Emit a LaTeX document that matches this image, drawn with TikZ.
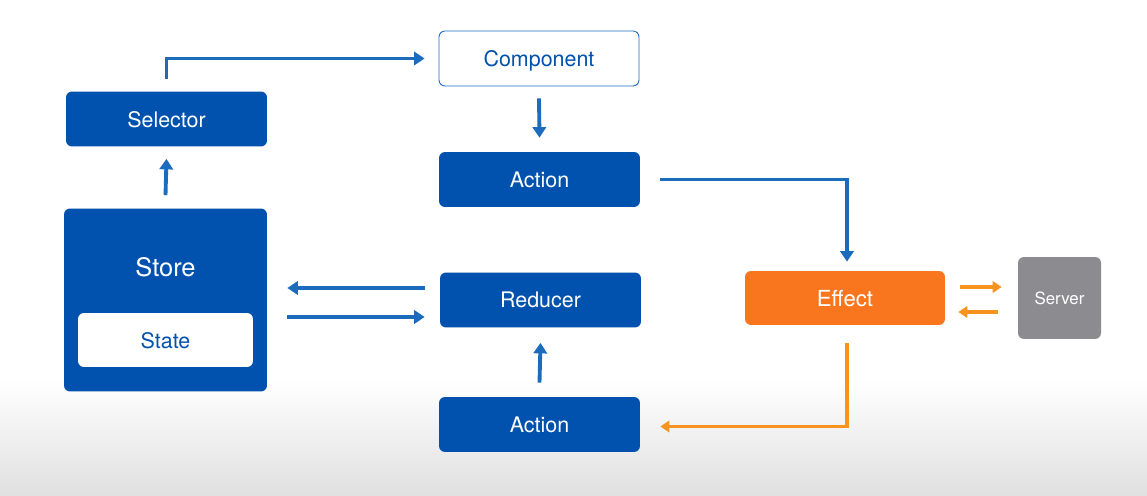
\documentclass[tikz,border=0pt]{standalone}
\usepackage{fontspec}
\setmainfont{TeX Gyre Heros}
\usetikzlibrary{arrows.meta,calc}
\definecolor{boxblue}{RGB}{0,82,174}
\definecolor{arrblue}{RGB}{28,108,190}
\definecolor{efforange}{RGB}{250,118,30}
\definecolor{arrorange}{RGB}{247,148,32}
\definecolor{srvgray}{RGB}{140,140,144}
\definecolor{bggray}{RGB}{224,224,224}
\begin{document}
\begin{tikzpicture}[x=0.02cm,y=-0.02cm,
	blk/.style={rectangle,rounded corners=3.4pt,fill=boxblue,text=white,minimum width=4.02cm,minimum height=1.1cm,inner sep=0pt,text depth=0pt,font=\fontsize{12.2}{14}\selectfont},
	arr/.style={draw=arrblue,line width=2.2pt,-{Triangle[length=6pt,width=7.6pt]}},
	oarr/.style={draw=arrorange,line width=1.9pt,-{Triangle[length=5.2pt,width=6.6pt]}}]
	\fill[white] (0,0) rectangle (1147,496);
	\shade[top color=white,bottom color=bggray] (0,380) rectangle (1147,496);
	\node[blk,fill=white,draw=arrblue,line width=0.5pt,text=boxblue,minimum width=4cm] (comp) at (539,58.5) {Component};
	\node[blk] (sel) at (166.5,119) {Selector};
	\node[blk] (act1) at (539.5,179.5) {Action};
	\node[blk,minimum width=4.06cm,minimum height=3.66cm] (store) at (165.5,300) {};
	\node[font=\fontsize{14.5}{17}\selectfont,text=white,text depth=0pt] (storetxt) at (165.5,267) {Store};
	\node[blk,fill=white,text=boxblue,minimum width=3.5cm,minimum height=1.08cm] (state) at (165.5,340) {State};
	\node[blk] (red) at (540.5,300) {Reducer};
	\node[blk] (act2) at (539.5,424.5) {Action};
	\node[blk,fill=efforange,minimum width=4cm,minimum height=1.08cm,font=\fontsize{12.6}{15}\selectfont] (eff) at (845,298) {Effect};
	\node[blk,fill=srvgray,minimum width=1.66cm,minimum height=1.64cm,font=\fontsize{9.6}{12}\selectfont] (srv) at (1059.5,298) {Server};
	\draw[arr] ($(sel.north)+(0,-12)$) |- ($(comp.west)+(-14,0)$);
	\draw[arr] ($(store.north)+(0,-13)$) -- ($(sel.south)+(0,12)$);
	\draw[arr] ($(comp.south)+(0,12)$) -- ($(act1.north)+(0,-14)$);
	\draw[arr] ($(act1.east)+(20,0)$) -| ($(eff.north)+(2,-9)$);
	\draw[arr] ($(red.west)+(-15,-12)$) -- ($(store.east)+(20,-12)$);
	\draw[arr] ($(store.east)+(20,17)$) -- ($(red.west)+(-15,17)$);
	\draw[arr] ($(act2.north)+(0,-14)$) -- ($(red.south)+(0,15)$);
	\draw[oarr] ($(eff.south)+(2,18)$) |- ($(act2.east)+(20,2)$);
	\draw[oarr] ($(eff.east)+(15,-11)$) -- ($(srv.west)+(-16,-11)$);
	\draw[oarr] ($(srv.west)+(-20,14)$) -- ($(eff.east)+(13,14)$);
\end{tikzpicture}
\end{document}
